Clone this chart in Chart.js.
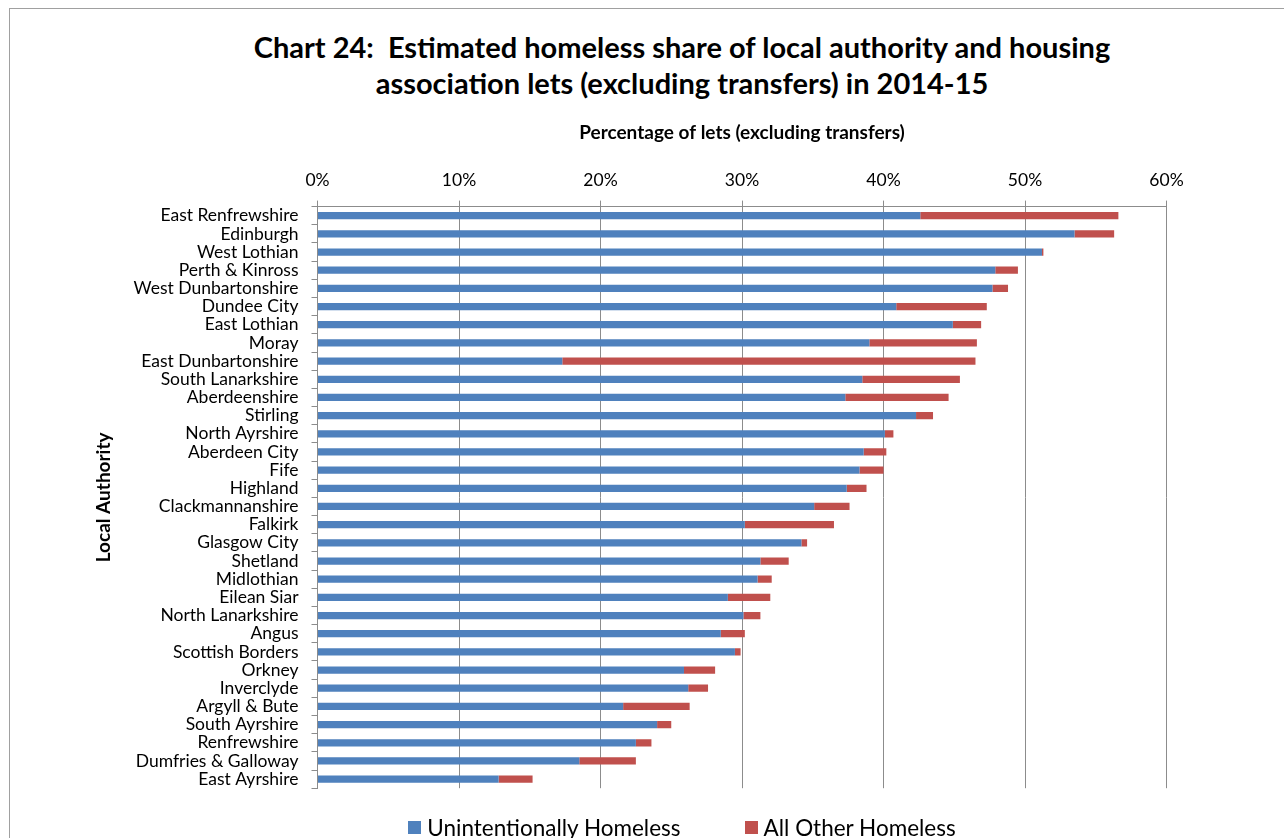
<!DOCTYPE html>
<html>
<head>
<meta charset="utf-8">
<title>Homeless share of lets 2014-15</title>
<script src="https://cdn.jsdelivr.net/npm/chart.js@4"></script>
<style>
    html, body { margin: 0; padding: 0; background: #fff; overflow: hidden; }
    body { width: 1284px; height: 838px; position: relative; font-family: Lato, sans-serif; }
    #frame { position: absolute; left: 9px; top: 8px; width: 1400px; height: 900px; border: 1px solid #a0a0a0; }
    #chart-title { position: absolute; left: 0; top: 29px; width: 1364px; text-align: center;
        font: bold 29px/36px Lato, sans-serif; color: #000; white-space: pre; }
    #chart-wrap { position: absolute; left: 0; top: 0; }
    #legend { position: absolute; left: 0; top: 813px; width: 1364px; text-align: center;
        font: 22.5px/26px Lato, sans-serif; color: #000; white-space: nowrap; }
    #legend .item { display: inline-flex; align-items: center; margin: 0 32px; }
    #legend .swatch { width: 13px; height: 13px; margin-right: 6px; }
</style>
</head>
<body>
<div id="frame"></div>
<div id="chart-title">Chart 24:  Estimated homeless share of local authority and housing
association lets (excluding transfers) in 2014-15</div>
<div id="chart-wrap"><canvas id="letsChart" width="1284" height="838"></canvas></div>
<div id="legend"></div>
<script>
// Local authorities, top to bottom
const authorities = [
    'East Renfrewshire', 'Edinburgh', 'West Lothian', 'Perth & Kinross',
    'West Dunbartonshire', 'Dundee City', 'East Lothian', 'Moray',
    'East Dunbartonshire', 'South Lanarkshire', 'Aberdeenshire', 'Stirling',
    'North Ayrshire', 'Aberdeen City', 'Fife', 'Highland',
    'Clackmannanshire', 'Falkirk', 'Glasgow City', 'Shetland',
    'Midlothian', 'Eilean Siar', 'North Lanarkshire', 'Angus',
    'Scottish Borders', 'Orkney', 'Inverclyde', 'Argyll & Bute',
    'South Ayrshire', 'Renfrewshire', 'Dumfries & Galloway', 'East Ayrshire'
];

// % of lets (excluding transfers)
const unintentionallyHomeless = [
    42.6, 53.5, 51.2, 47.9, 47.7, 40.9, 44.9, 39.0,
    17.3, 38.5, 37.3, 42.3, 40.1, 38.6, 38.3, 37.4,
    35.1, 30.2, 34.2, 31.3, 31.1, 29.0, 30.1, 28.5,
    29.5, 25.9, 26.2, 21.6, 24.0, 22.5, 18.5, 12.8
];
const allOtherHomeless = [
    14.0, 2.8, 0.1, 1.6, 1.1, 6.4, 2.0, 7.6,
    29.2, 6.9, 7.3, 1.2, 0.6, 1.6, 1.7, 1.4,
    2.5, 6.3, 0.4, 2.0, 1.0, 3.0, 1.2, 1.7,
    0.4, 2.2, 1.4, 4.7, 1.0, 1.1, 4.0, 2.4
];

const seriesNames = ['Unintentionally Homeless', 'All Other Homeless'];
const seriesColours = ['#4F81BD', '#C0504D'];

const axisGrey = '#8c8c8c';
const labelFont = { family: 'Lato', size: 17.5 };
const axisTitleFont = { family: 'Lato', size: 19, weight: 'bold' };

const ctx = document.getElementById('letsChart').getContext('2d');
const chart = new Chart(ctx, {
    type: 'bar',
    data: {
        labels: authorities,
        datasets: [{
            label: seriesNames[0],
            data: unintentionallyHomeless,
            backgroundColor: seriesColours[0],
            categoryPercentage: 1,
            barPercentage: 0.4
        }, {
            label: seriesNames[1],
            data: allOtherHomeless,
            backgroundColor: seriesColours[1],
            categoryPercentage: 1,
            barPercentage: 0.4
        }]
    },
    options: {
        indexAxis: 'y',
        responsive: false,
        animation: false,
        layout: { padding: { left: 92.6, right: 117.5, top: 121.8, bottom: 49.8 } },
        plugins: {
            legend: { display: false },
            tooltip: { enabled: false }
        },
        scales: {
            x: {
                position: 'top',
                stacked: true,
                min: 0,
                max: 60,
                ticks: {
                    stepSize: 10,
                    callback: v => v + '%',
                    font: labelFont,
                    color: '#000',
                    padding: 10
                },
                grid: { color: axisGrey, tickLength: 6 },
                border: { color: axisGrey },
                title: {
                    display: true,
                    text: 'Percentage of lets (excluding transfers)',
                    font: axisTitleFont,
                    color: '#000',
                    // ticks.padding is counted twice in the axis height
                    padding: { top: 0, bottom: 15 }
                }
            },
            y: {
                stacked: true,
                ticks: { font: labelFont, color: '#000', padding: 13, autoSkip: false },
                grid: { drawOnChartArea: false, tickLength: 6, color: axisGrey },
                border: { color: axisGrey },
                title: {
                    display: true,
                    text: 'Local Authority',
                    font: axisTitleFont,
                    color: '#000',
                    padding: 0
                },
                afterFit: scale => { scale.width = 224.9; }
            }
        }
    }
});

// Legend below the plot
const legendEl = document.getElementById('legend');
chart.data.datasets.forEach(ds => {
    const item = document.createElement('span');
    item.className = 'item';
    const swatch = document.createElement('span');
    swatch.className = 'swatch';
    swatch.style.background = ds.backgroundColor;
    item.appendChild(swatch);
    item.appendChild(document.createTextNode(ds.label));
    legendEl.appendChild(item);
});
</script>
</body>
</html>
